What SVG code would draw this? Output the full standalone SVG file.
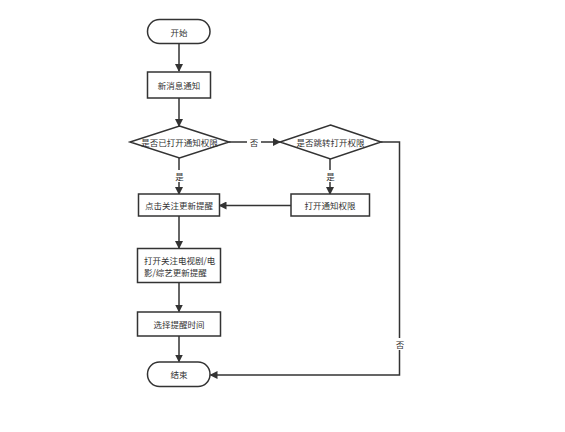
<svg xmlns="http://www.w3.org/2000/svg" width="565" height="432" viewBox="0 0 565 432">
<defs>
<marker id="ah" markerWidth="8" markerHeight="8" refX="7" refY="4" orient="auto" markerUnits="userSpaceOnUse"><path d="M0,0 L8,4 L0,8 Z" fill="#333"/></marker>
<style>
.n{fill:#fff;stroke:#333;stroke-width:1.5}
.t{font-family:"Noto Sans CJK SC","Noto Sans",sans-serif;font-size:8.5px;fill:#333;text-anchor:middle;dominant-baseline:central}
.c{fill:none;stroke:#333;stroke-width:1.5;marker-end:url(#ah)}
.l{font-family:"Noto Sans CJK SC","Noto Sans",sans-serif;font-size:8.5px;fill:#333;text-anchor:middle;dominant-baseline:central}
</style>
</defs>
<rect width="565" height="432" fill="#fff"/>
<g id="connectors">
<path class="c" d="M179,43 V71"/>
<path class="c" d="M179,98 V126"/>
<path class="c" d="M229,142 H280"/>
<path class="c" d="M179,158 V194"/>
<path class="c" d="M330,159 V194"/>
<path class="c" d="M291,205.5 H219.5"/>
<path class="c" d="M179,216 V248"/>
<path class="c" d="M179,283 V311.5"/>
<path class="c" d="M179,336 V361.5"/>
<path class="c" d="M381,142 H399.5 V375 H210.5"/>
<rect x="247" y="136" width="14" height="12" fill="#fff"/>
<text class="l" x="254" y="142">否</text>
<rect x="173" y="170" width="13" height="12" fill="#fff"/>
<text class="l" x="179.5" y="176">是</text>
<rect x="324" y="170" width="13" height="12" fill="#fff"/>
<text class="l" x="330.5" y="176">是</text>
<rect x="393" y="338" width="14" height="12" fill="#fff"/>
<text class="l" x="400" y="344">否</text>
</g>
<g id="start"><rect class="n" x="147.5" y="19.5" width="62.5" height="24" rx="12"/><text class="t" x="179" y="31.5">开始</text></g>
<g id="notify"><rect class="n" x="147.5" y="72" width="63" height="26"/><text class="t" x="179" y="85">新消息通知</text></g>
<g id="d1"><polygon class="n" points="179.5,126 229,142 179.5,158 130,142"/><text class="t" x="179.5" y="142">是否已打开通知权限</text></g>
<g id="d2"><polygon class="n" points="330.5,125 381,142 330.5,159 280,142"/><text class="t" x="330.5" y="142">是否跳转打开权限</text></g>
<g id="follow"><rect class="n" x="138.5" y="194" width="81" height="22"/><text class="t" x="179" y="205">点击关注更新提醒</text></g>
<g id="openperm"><rect class="n" x="291" y="194" width="78.5" height="22"/><text class="t" x="330" y="205">打开通知权限</text></g>
<g id="openfollow"><rect class="n" x="137.5" y="248.5" width="83" height="34"/><text class="t" x="179" y="259.5" style="text-anchor:start" dx="-35">打开关注电视剧/电</text><text class="t" x="179" y="271.5" style="text-anchor:start" dx="-35">影/综艺更新提醒</text></g>
<g id="time"><rect class="n" x="137.5" y="312" width="83" height="24"/><text class="t" x="179" y="324">选择提醒时间</text></g>
<g id="end"><rect class="n" x="147.5" y="362" width="62.5" height="24.5" rx="12"/><text class="t" x="179" y="374">结束</text></g>
</svg>
